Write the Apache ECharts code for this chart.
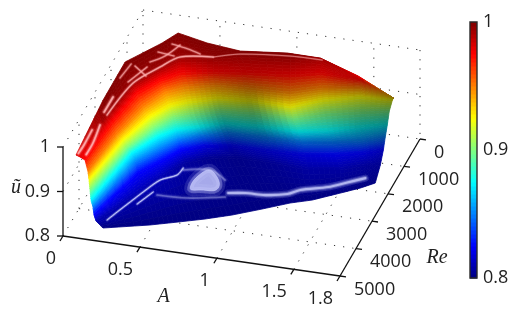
<!DOCTYPE html>
<html><head><meta charset="utf-8">
<style>html,body{margin:0;padding:0;background:#fff}#c{width:513px;height:313px}</style>
<script src="https://cdn.jsdelivr.net/npm/echarts@6/dist/echarts.min.js"></script></head>
<body><div id="c"></div>
<script>
const aTicks=[0,0.5,1,1.5,1.8];
const reTicks=[0,1000,2000,3000,4000,5000];
const uTicks=[0.8,0.9,1];
// surface mesh, rows run from the back rim to the front edge
const meshA=[
[.075,.076,.075,.230,.291,.500,.726,1.015,1.223,1.490,1.707],
[.103,.144,.188,.294,.379,.577,.729,1.036,1.234,1.493,1.707],
[.139,.168,.216,.309,.404,.599,.806,1.071,1.244,1.509,1.707],
[.160,.203,.262,.342,.438,.617,.838,1.092,1.270,1.498,1.707],
[.155,.219,.300,.382,.470,.639,.856,1.105,1.273,1.490,1.693],
[.157,.232,.324,.403,.494,.660,.877,1.126,1.301,1.504,1.674],
[.159,.240,.340,.424,.531,.691,.905,1.163,1.339,1.521,1.672],
[.156,.257,.355,.432,.550,.707,.925,1.183,1.363,1.539,1.663],
[.151,.268,.373,.446,.576,.738,.959,1.207,1.387,1.548,1.658],
[.161,.329,.413,.492,.628,.781,1.002,1.255,1.447,1.583,1.669],
[.212,.483,.641,.792,.940,1.099,1.246,1.368,1.512,1.614,1.686]];
const meshRe=[
[4907,3224,1838,1018,604,799,909,747,681,877,774],
[4924,3635,2432,1762,1328,1168,936,760,664,900,774],
[4957,3547,2449,1900,1567,1373,1242,1100,887,928,774],
[4972,3514,2517,1905,1645,1427,1358,1298,1008,824,774],
[4861,3348,2443,1976,1758,1512,1408,1426,1035,750,695],
[4819,3225,2421,1991,1808,1527,1425,1442,1118,881,706],
[4776,2995,2330,2007,1847,1572,1507,1482,1302,1046,813],
[4627,2903,2349,1959,1717,1480,1450,1423,1278,1098,852],
[4516,2888,2329,1906,1654,1523,1526,1471,1325,1122,924],
[4485,3217,2528,2100,1844,1683,1687,1737,1582,1326,1219],
[4537,4207,3970,3738,3472,3124,2786,2578,2207,1941,1700]];
const meshU=[
[.98,1,1,1,1,1,1,1,.995,.98,.935],
[.978,.995,.995,.995,.995,.995,.995,.995,.99,.977,.935],
[.975,.975,.975,.975,.975,.975,.975,.975,.975,.975,.935],
[.95,.95,.95,.95,.95,.95,.95,.95,.95,.95,.935],
[.925,.925,.925,.925,.925,.925,.925,.925,.925,.925,.925],
[.90,.90,.90,.90,.90,.90,.90,.90,.90,.90,.90],
[.875,.875,.875,.875,.875,.875,.875,.875,.875,.875,.875],
[.85,.85,.85,.85,.85,.85,.85,.85,.85,.85,.85],
[.825,.825,.825,.825,.825,.825,.825,.825,.825,.825,.825],
[.81,.81,.81,.81,.81,.81,.81,.81,.81,.81,.81],
[.80,.80,.80,.80,.80,.80,.80,.80,.80,.80,.80]];
// diffuse light on the surface
const meshLight=[
[1,1,1,1,1,1,1,1,1,1,.55],
[1,1,1,1,1,.9,.85,.85,.9,.8,.55],
[1,1,1,1,.95,.75,.7,.75,.8,.7,.55],
[1,1,1,1,.9,.7,.6,.72,.75,.65,.55],
[1,1,1,.95,.85,.65,.55,.85,.75,.65,.55],
[1,1,1,.95,.85,.6,.55,.85,.72,.6,.55],
[1,1,1,.95,.85,.55,.55,.8,.75,.6,.55],
[1,1,1,1,.85,.6,.6,.75,.7,.65,.6],
[1,1,1,1,.85,.65,.7,.8,.85,.8,.7],
[1,1,1,.9,.8,.75,.8,.9,.9,.85,.8],
[1,1,1,1,1,1,1,1,1,1,1]];
// specular streaks as [A,Re,u] paths
const glintFront=[
[[.224,4397,.81],[.256,4080,.81],[.299,3679,.81],[.342,3280,.81],[.402,2794,.81],[.486,2543,.81],[.498,2278,.81]],
[[.348,3713,.81],[.402,3232,.81]]];
const glintFaint=[
[[.436,3313,.81],[.627,3268,.81],[.851,3050,.81]],
[[.505,2345,.81],[.667,2214,.81],[.792,2478,.81]]];
const glintBlob=[[.632,2316,.81],[.692,2267,.81],[.778,2781,.81],[.677,2935,.81],[.61,2917,.81]];
const glintBand=[[.855,2900,.81],[.957,2817,.81],[1.084,2788,.81],[1.213,2647,.81],[1.277,2449,.81],[1.434,2212,.81],[1.522,1995,.81],[1.625,1730,.81]];
const glintRim=[
[[.099,4137,.99],[.103,4681,.99],[.099,4990,.99]],
[[.129,3930,.99],[.15,4570,.99],[.15,4990,.99]],
[[.124,3623,1],[.125,3074,1]],
[[.10,2400,1],[.118,1876,1]],
[[.148,1924,1],[.249,2207,1]],
[[.162,2496,1],[.224,1899,1]],
[[.237,1340,1],[.347,1398,1]],
[[.293,1003,1],[.407,1093,1],[.496,1204,1]],
[[.224,1716,1],[.293,1441,1],[.345,998,1]]];

const clamp=v=>Math.max(0,Math.min(1,v));
function jet(u,m){const t=clamp((u-.8)/.2);
  const c=[1.5-Math.abs(4*t-3),1.5-Math.abs(4*t-2),1.5-Math.abs(4*t-1)].map(v=>Math.round(255*clamp(v)*(m===undefined?1:m)));
  return `rgb(${c[0]},${c[1]},${c[2]})`;}
function project(A,Re,u){return [63+A/1.8*277+(5000-Re)/5000*80, 236+A/1.8*40-(5000-Re)/5000*137-(u-.8)/.2*89];}

// surface cells
const SUB=6,cells=[];
function bil(g,r,c,s,t){return g[r][c]*(1-s)*(1-t)+g[r][c+1]*s*(1-t)+g[r+1][c]*(1-s)*t+g[r+1][c+1]*s*t;}
for(let r=0;r<meshU.length-1;r++)for(let c=0;c<meshU[0].length-1;c++)for(let i=0;i<SUB;i++)for(let j=0;j<SUB;j++){
  const pt=(s,t)=>project(bil(meshA,r,c,s,t),bil(meshRe,r,c,s,t),bil(meshU,r,c,s,t));
  const s0=i/SUB,s1=(i+1)/SUB,t0=j/SUB,t1=(j+1)/SUB,sm=(s0+s1)/2,tm=(t0+t1)/2;
  cells.push({p:[pt(s0,t0),pt(s1,t0),pt(s1,t1),pt(s0,t1)],col:jet(bil(meshU,r,c,sm,tm),bil(meshLight,r,c,sm,tm))});
}
const cellLayer={type:'custom',coordinateSystem:'cartesian2d',xAxisIndex:0,yAxisIndex:0,silent:true,clip:false,z:3,
  data:cells.map((c,i)=>[i]),
  renderItem(params,api){const c=cells[params.dataIndex];
    return {type:'polygon',shape:{points:c.p.map(q=>api.coord(q))},style:{fill:c.col,stroke:c.col,lineWidth:.8}};}};

// dotted box
const gridSegs=[];
const seg=(a,b)=>gridSegs.push([project(...a),project(...b)]);
[.5,1,1.5].forEach(A=>{seg([A,5000,.8],[A,0,.8]);seg([A,0,.8],[A,0,1]);});
[1000,2000,3000,4000].forEach(R=>{seg([0,R,.8],[1.8,R,.8]);seg([0,R,.8],[0,R,1]);});
seg([0,5000,.9],[0,0,.9]);seg([0,0,.9],[1.8,0,.9]);
seg([0,5000,1],[0,0,1]);seg([0,0,1],[1.8,0,1]);seg([1.8,0,1],[1.8,0,.8]);
seg([0,0,.8],[0,0,1]);seg([0,5000,.8],[0,0,.8]);seg([0,0,.8],[1.8,0,.8]);
const gridLayer={type:'custom',coordinateSystem:'cartesian2d',xAxisIndex:0,yAxisIndex:0,silent:true,clip:false,z:1,
  data:gridSegs.map((c,i)=>[i]),
  renderItem(params,api){const s=gridSegs[params.dataIndex],a=api.coord(s[0]),b=api.coord(s[1]);
    return {type:'line',shape:{x1:a[0],y1:a[1],x2:b[0],y2:b[1]},style:{stroke:'#333',lineWidth:1,lineDash:[1.2,8]}};}};

// specular marks: soft halo strokes under a brighter core
const glints=[];
const BLUE='205,210,255',PINK='255,175,175';
function soft(p,w,rgb,a,blur){
  glints.push({k:'line',p,w:w*3.2,col:`rgba(${rgb},${a*.22})`,blur:0});
  glints.push({k:'line',p,w:w*1.9,col:`rgba(${rgb},${a*.4})`,blur:0});
  glints.push({k:'line',p,w,col:`rgba(${rgb},${a})`,blur});
}
glintFaint.forEach(p=>soft(p,1.6,BLUE,.3,2));
glintFront.forEach(p=>soft(p,1,BLUE,.8,1));
glints.push({k:'poly',p:glintBlob,w:12,col:`rgba(${BLUE},.14)`,blur:0});
glints.push({k:'poly',p:glintBlob,w:6,col:`rgba(${BLUE},.3)`,blur:0});
glints.push({k:'poly',p:glintBlob,w:1,col:`rgba(${BLUE},.55)`,blur:4});
soft(glintBand,2.2,BLUE,.7,3);
glintRim.forEach((p,i)=>soft(p,i<3?1.5:1.1,PINK,i<3?.8:.6,1));
const row=(a,b)=>meshA[1].slice(a,b).map((A,i)=>[A,meshRe[1][i+a],meshU[1][i+a]]);
soft(row(1,6),1.1,PINK,.75,1);
soft(row(5,9),.7,PINK,.55,1);
const glintLayer={type:'custom',coordinateSystem:'cartesian2d',xAxisIndex:0,yAxisIndex:0,silent:true,clip:false,z:4,
  data:glints.map((c,i)=>[i]),
  renderItem(params,api){const g=glints[params.dataIndex],pts=g.p.map(q=>api.coord(project(...q)));
    return g.k==='poly'
      ?{type:'polygon',shape:{points:pts,smooth:.5},style:{fill:g.col,stroke:g.col,lineWidth:g.w,lineJoin:'round',shadowBlur:g.blur,shadowColor:g.col}}
      :{type:'polyline',shape:{points:pts,smooth:.3},style:{stroke:g.col,fill:null,lineWidth:g.w,lineCap:'round',lineJoin:'round',shadowBlur:g.blur,shadowColor:g.col}};}};

// solid axes, ticks and labels
const INK='#111',TXT='#222',FONT='"Open Sans",sans-serif',MATH='italic 20px "Liberation Serif",serif';
const axisParts=[];
const line=(a,b)=>axisParts.push({k:'l',a,b});
const text=(s,at,dx,dy,align,font)=>axisParts.push({k:'t',s,at,dx,dy,align,font:font||('18px '+FONT)});
line([0,5000,.8],[1.8,5000,.8]);line([1.8,5000,.8],[1.8,0,.8]);line([0,5000,.8],[0,5000,1]);
aTicks.forEach(A=>{axisParts.push({k:'l',a:[A,5000,.8],d:[-3,5]});text(String(A),[A,5000,.8],-7,23,'right');});
reTicks.forEach(R=>{axisParts.push({k:'l',a:[1.8,R,.8],d:[6,.8]});text(String(R),[1.8,R,.8],14,13.5,'left');});
uTicks.forEach(u=>{axisParts.push({k:'l',a:[0,5000,u],d:[-6,0]});text(String(u),[0,5000,u],-13,0,'right');});
text('A',[.9,5000,.8],-38,41,'center',MATH);
text('Re',[1.8,1000,.8],33,91,'center',MATH);
text('ũ',[0,5000,.9],-47,-4,'center',MATH);
const axisLayer={type:'custom',coordinateSystem:'cartesian2d',xAxisIndex:0,yAxisIndex:0,silent:true,clip:false,z:5,
  data:axisParts.map((c,i)=>[i]),
  renderItem(params,api){const e=axisParts[params.dataIndex];
    if(e.k==='l'){const a=api.coord(project(...e.a)),b=e.d?[a[0]+e.d[0],a[1]+e.d[1]]:api.coord(project(...e.b));
      return {type:'line',shape:{x1:a[0],y1:a[1],x2:b[0],y2:b[1]},style:{stroke:INK,lineWidth:1.3}};}
    const a=api.coord(project(...e.at));
    return {type:'text',style:{text:e.s,x:a[0]+e.dx,y:a[1]+e.dy,align:e.align,verticalAlign:'middle',font:e.font,fill:TXT}};}};

// colour bar
const levels=[];for(let i=0;i<64;i++)levels.push(i);
const barLayer={type:'custom',coordinateSystem:'cartesian2d',xAxisIndex:1,yAxisIndex:1,silent:true,clip:false,z:3,
  data:levels.map(i=>[0,.8+.2*i/64]),
  renderItem(params,api){const v=api.value(1),a=api.coord([0,v]),b=api.coord([1,v+.2/64]);
    return {type:'rect',shape:{x:a[0],y:b[1],width:b[0]-a[0],height:a[1]-b[1]+.5},style:{fill:jet(v+.1/64)}};}};
const frameLayer={type:'custom',coordinateSystem:'cartesian2d',xAxisIndex:1,yAxisIndex:1,silent:true,clip:false,z:4,
  data:[[0,.8]],
  renderItem(params,api){const a=api.coord([0,.8]),b=api.coord([1,1]);
    return {type:'rect',shape:{x:a[0],y:b[1],width:b[0]-a[0],height:a[1]-b[1]},style:{fill:null,stroke:'#2a2a2a',lineWidth:1.4}};}};

const chart=echarts.init(document.getElementById('c'),null,{renderer:'canvas'});
chart.setOption({animation:false,backgroundColor:'#fff',
  grid:[{left:0,right:0,top:0,bottom:0},{left:470,width:7,top:22,height:256}],
  xAxis:[{type:'value',min:0,max:513,show:false,gridIndex:0},
         {type:'value',min:0,max:1,gridIndex:1,axisLabel:{show:false},axisTick:{show:false},splitLine:{show:false},axisLine:{show:false}}],
  yAxis:[{type:'value',min:0,max:313,inverse:true,show:false,gridIndex:0},
         {type:'value',min:.8,max:1,interval:.1,position:'right',gridIndex:1,splitLine:{show:false},axisTick:{show:false},
          axisLine:{show:false},
          axisLabel:{margin:6,color:TXT,fontFamily:'Open Sans',fontSize:18,formatter:v=>String(+v.toFixed(1))}}],
  series:[gridLayer,cellLayer,glintLayer,axisLayer,barLayer,frameLayer]});
</script></body></html>
